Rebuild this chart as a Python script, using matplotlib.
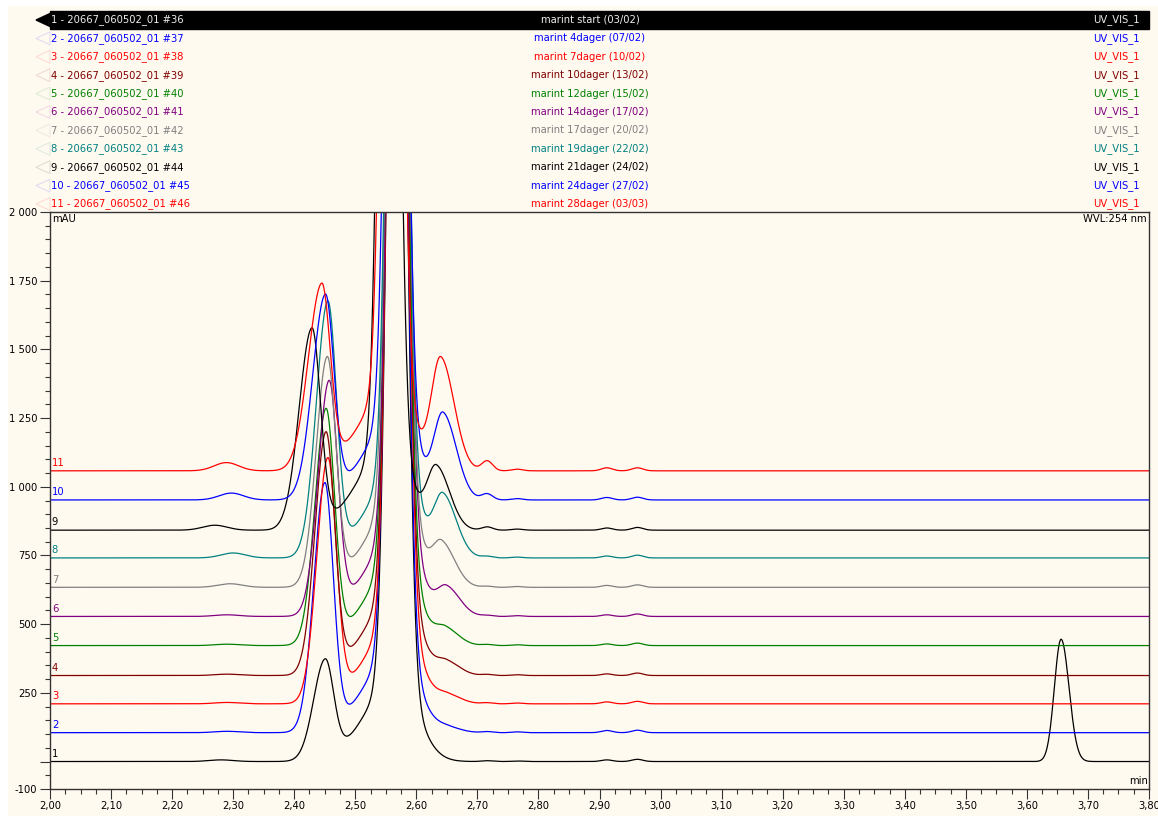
import numpy as np
import matplotlib.pyplot as plt
from matplotlib import font_manager
from matplotlib.patches import Polygon, Rectangle
from matplotlib.ticker import FixedLocator, MultipleLocator, FuncFormatter

# the original uses a narrow sans; pick the narrowest one that is installed
installed = [(f.name, f.stretch) for f in font_manager.fontManager.ttflist]
if any(n == 'Liberation Sans Narrow' for n, s in installed):
    plt.rcParams['font.family'] = ['Liberation Sans Narrow', 'DejaVu Sans']
    FS = 9
    STRETCH = 'normal'
elif any(n == 'DejaVu Sans' and s in ('condensed', 'semi-condensed', 600, 700) for n, s in installed):
    plt.rcParams['font.family'] = ['DejaVu Sans']
    FS = 8
    STRETCH = 'condensed'
else:
    plt.rcParams['font.family'] = ['Liberation Sans', 'DejaVu Sans']
    FS = 8
    STRETCH = 'normal'
plt.rcParams['font.stretch'] = STRETCH

# run table (header rows)
run_ids = ['#36', '#37', '#38', '#39', '#40', '#41', '#42', '#43', '#44', '#45', '#46']
run_names = ['marint start (03/02)', 'marint 4dager (07/02)', 'marint 7dager (10/02)',
             'marint 10dager (13/02)', 'marint 12dager (15/02)', 'marint 14dager (17/02)',
             'marint 17dager (20/02)', 'marint 19dager (22/02)', 'marint 21dager (24/02)',
             'marint 24dager (27/02)', 'marint 28dager (03/03)']
channels = ['UV_VIS_1'] * 11
colors = ['#000000', '#0000FF', '#FF0000', '#800000', '#008000', '#800080',
          '#808080', '#008080', '#000000', '#0000FF', '#FF0000']

# baseline of each trace (mAU)
baselines = [0, 105, 210, 313, 422, 528, 634, 741, 842, 952, 1058]

# big off-scale peak: core + skirt (rt, height)
main_rt = [2.568, 2.568, 2.569, 2.569, 2.569, 2.570, 2.569, 2.569, 2.555, 2.567, 2.560]
main_height = [4300] * 11
skirt_height = [300] * 11

# peak at ~2.45 min
small_rt = [2.4505, 2.450, 2.455, 2.452, 2.452, 2.457, 2.454, 2.455, 2.429, 2.451, 2.445]
small_height = [355, 892, 874, 868, 844, 836, 819, 913, 724, 729, 662]
small_width_left = [0.019, 0.018, 0.018, 0.018, 0.018, 0.018, 0.018, 0.019, 0.021, 0.021, 0.022]

# peak at ~2.64 min
mid_rt = [2.650, 2.652, 2.652, 2.650, 2.648, 2.650, 2.642, 2.644, 2.633, 2.644, 2.640]
mid_height = [0, 16, 28, 44, 55, 98, 146, 215, 220, 300, 400]

# little hump at ~2.29 min
hump_rt = [2.28, 2.29, 2.29, 2.29, 2.29, 2.29, 2.295, 2.300, 2.270, 2.297, 2.289]
hump_height = [6, 5, 5, 5, 5, 6, 13, 18, 18, 25, 30]

# small bumps after the 2.64 peak
bump_rt = [2.716, 2.765, 2.912, 2.962]
bump_height = [
    [3, 2, 6, 8], [4, 3, 8, 9], [4, 3, 7, 9], [4, 3, 6, 9], [4, 3, 6, 9], [4, 3, 6, 9],
    [4, 3, 7, 9], [6, 3, 7, 10], [12, 4, 8, 10], [22, 5, 9, 10], [36, 6, 11, 11],
]

# late peak, first run only
late_rt = 3.656
late_height = 445

y_ticks = [-100, 0, 250, 500, 750, 1000, 1250, 1500, 1750, 2000]
x_ticks = [2.0, 2.1, 2.2, 2.3, 2.4, 2.5, 2.6, 2.7, 2.8, 2.9, 3.0,
           3.1, 3.2, 3.3, 3.4, 3.5, 3.6, 3.7, 3.8]


def asym_peak(t, rt, height, wl, wr):
    w = np.where(t < rt, wl, wr)
    return height * np.exp(-0.5 * ((t - rt) / w) ** 2)


def build_trace(t, i):
    y = np.full_like(t, float(baselines[i]))
    y += asym_peak(t, main_rt[i], main_height[i], 0.0132, 0.0135)
    y += asym_peak(t, main_rt[i], skirt_height[i], 0.05, 0.033)
    y += asym_peak(t, small_rt[i], small_height[i], small_width_left[i], 0.014)
    y += asym_peak(t, mid_rt[i], mid_height[i], 0.015, 0.022)
    y += asym_peak(t, hump_rt[i], hump_height[i], 0.02, 0.02)
    for rt, h in zip(bump_rt, bump_height[i]):
        y += asym_peak(t, rt, h, 0.009, 0.009)
    if i == 0:
        y += asym_peak(t, late_rt, late_height, 0.011, 0.013)
    return y


W, H = 1158, 816
cream = '#FFFAF0'
fig = plt.figure(figsize=(W / 100, H / 100), dpi=100, facecolor='white')

# background + header drawn in pixel coords
bg = fig.add_axes([0, 0, 1, 1])
bg.set_xlim(0, W)
bg.set_ylim(H, 0)
bg.axis('off')
bg.add_patch(Rectangle((8, 6), W - 8, H - 6, color=cream, zorder=0))

row_y = 20
for i in range(11):
    yc = row_y + 18.4 * i
    if i == 0:
        bg.add_patch(Rectangle((50, yc - 9.5), 1099, 18.5, color='black', zorder=1))
        bg.add_patch(Polygon([[36, yc], [50, yc - 6.5], [50, yc + 6.5]], closed=True,
                             color='black', zorder=1))
        tcol = '#EEEEEE'
    else:
        bg.add_patch(Polygon([[36, yc], [50, yc - 6.5], [50, yc + 6.5]], closed=True,
                             fill=False, edgecolor=colors[i], alpha=0.12, lw=0.8, zorder=1))
        tcol = colors[i]
    bg.text(51, yc, f"{i + 1} - 20667_060502_01 {run_ids[i]}", color=tcol, fontsize=FS,
            ha='left', va='center', zorder=2)
    bg.text(590, yc, run_names[i], color=tcol, fontsize=FS, ha='center', va='center', zorder=2)
    bg.text(1140, yc, channels[i], color=tcol, fontsize=FS, ha='right', va='center', zorder=2)

# chromatogram axes
ax = fig.add_axes([50 / W, 27 / H, 1099 / W, 577 / H])
ax.set_facecolor(cream)

t = np.linspace(2.0, 3.8, 4000)
for i in range(11):
    ax.plot(t, build_trace(t, i), color=colors[i], lw=0.9)
    ax.text(2.003, baselines[i] + 10, str(i + 1), color=colors[i], fontsize=FS,
            ha='left', va='bottom')

ax.set_xlim(2.0, 3.8)
ax.set_ylim(-100, 2000)

ax.xaxis.set_major_locator(FixedLocator(x_ticks))
ax.xaxis.set_minor_locator(MultipleLocator(0.025))
ax.xaxis.set_major_formatter(FuncFormatter(lambda v, p: f"{v:.2f}".replace('.', ',')))
ax.yaxis.set_major_locator(FixedLocator(y_ticks))
ax.yaxis.set_minor_locator(MultipleLocator(50))
ax.yaxis.set_major_formatter(FuncFormatter(
    lambda v, p: '' if v == 0 else f"{int(v):,}".replace(',', ' ')))

ax.tick_params(which='major', length=7, width=0.8, direction='out', labelsize=FS,
               color='#333333', pad=2)
ax.tick_params(which='minor', length=3.5, width=0.8, direction='out', color='#333333')
for s in ax.spines.values():
    s.set_color('#333333')
    s.set_linewidth(1.0)

ax.text(0.002, 0.997, 'mAU', transform=ax.transAxes, fontsize=FS, ha='left', va='top')
ax.text(0.998, 0.997, 'WVL:254 nm', transform=ax.transAxes, fontsize=FS, ha='right', va='top')
ax.text(0.999, 0.006, 'min', transform=ax.transAxes, fontsize=FS, ha='right', va='bottom')

fig.savefig('out.png', dpi=100, facecolor='white')
